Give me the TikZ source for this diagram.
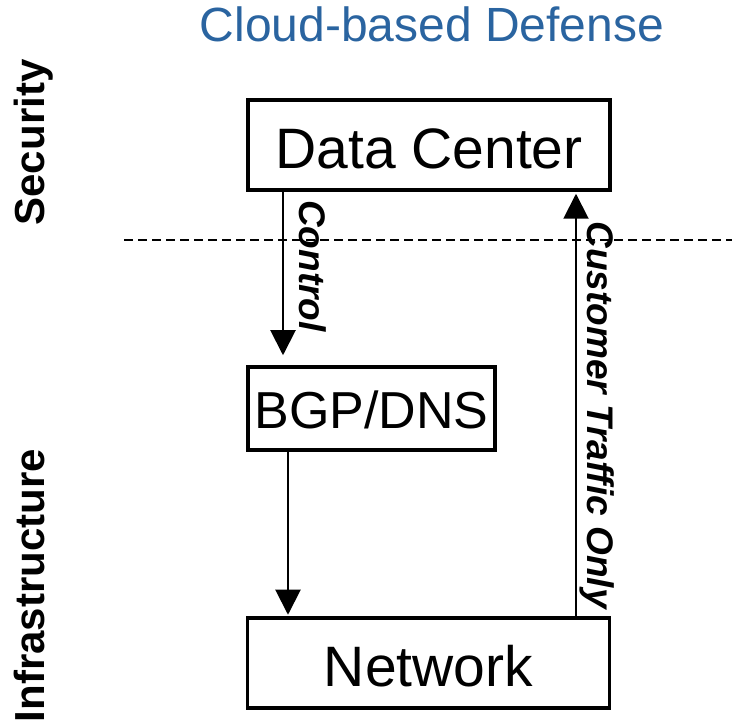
\documentclass[tikz,border=0pt]{standalone}
\usepackage{fontspec}
\setmainfont{Liberation Sans}
\usetikzlibrary{arrows.meta}
\definecolor{titleblue}{RGB}{42,100,160}
\begin{document}
\begin{tikzpicture}[x=1pt,y=-1pt,
  box/.style={draw, line width=3.5pt, inner sep=0pt, font=\fontsize{57}{60}\selectfont, text height=47pt, text depth=0pt},
  arr/.style={line width=2pt, -{Triangle[length=25pt,width=25pt]}},
  side/.style={font=\bfseries\fontsize{42}{44}\selectfont, rotate=90, anchor=base, inner sep=0pt},
  lbl/.style={font=\bfseries\itshape\fontsize{37}{40}\selectfont, rotate=-90, anchor=base, inner sep=0pt},
  sep/.style={line width=1.5pt, dash pattern=on 9pt off 5pt}]
\useasboundingbox (0,0) rectangle (732,727);
% title and side labels
\node[font=\fontsize{48}{50}\selectfont, text=titleblue, anchor=base, inner sep=0pt] (title) at (432,42) {Cloud-based Defense};
\node[side] (sec) at (45,142.5) {Security};
\node[side] (inf) at (45,585.5) {Infrastructure};
% separator
\coordinate (d1) at (124,240);
\coordinate (d2) at (732,240);
\draw[sep] (d1) -- (d2);
% boxes
\node[box, minimum width=362pt, minimum height=90pt] (dc) at (429,145) {Data Center};
\node[box, minimum width=247pt, minimum height=83pt, font=\fontsize{52}{55}\selectfont, text height=40pt] (bgp) at (371.5,408.5) {BGP/DNS};
\node[box, minimum width=362pt, minimum height=90pt] (nw) at (428.5,663) {Network};
% arrows
\coordinate (x1) at (283,0);
\coordinate (x2) at (288,0);
\coordinate (x3) at (576,0);
\draw[arr, shorten >=10pt] (dc.south -| x1) -- (bgp.north -| x1);
\draw[arr, shorten >=1.5pt] (bgp.south -| x2) -- (nw.north -| x2);
\draw[arr, shorten >=2pt] (nw.north -| x3) -- (dc.south -| x3);
% arrow labels
\node[lbl] (ctl) at (299,266) {Control};
\node[lbl] (cust) at (587,415) {Customer Traffic Only};
\end{tikzpicture}
\end{document}
